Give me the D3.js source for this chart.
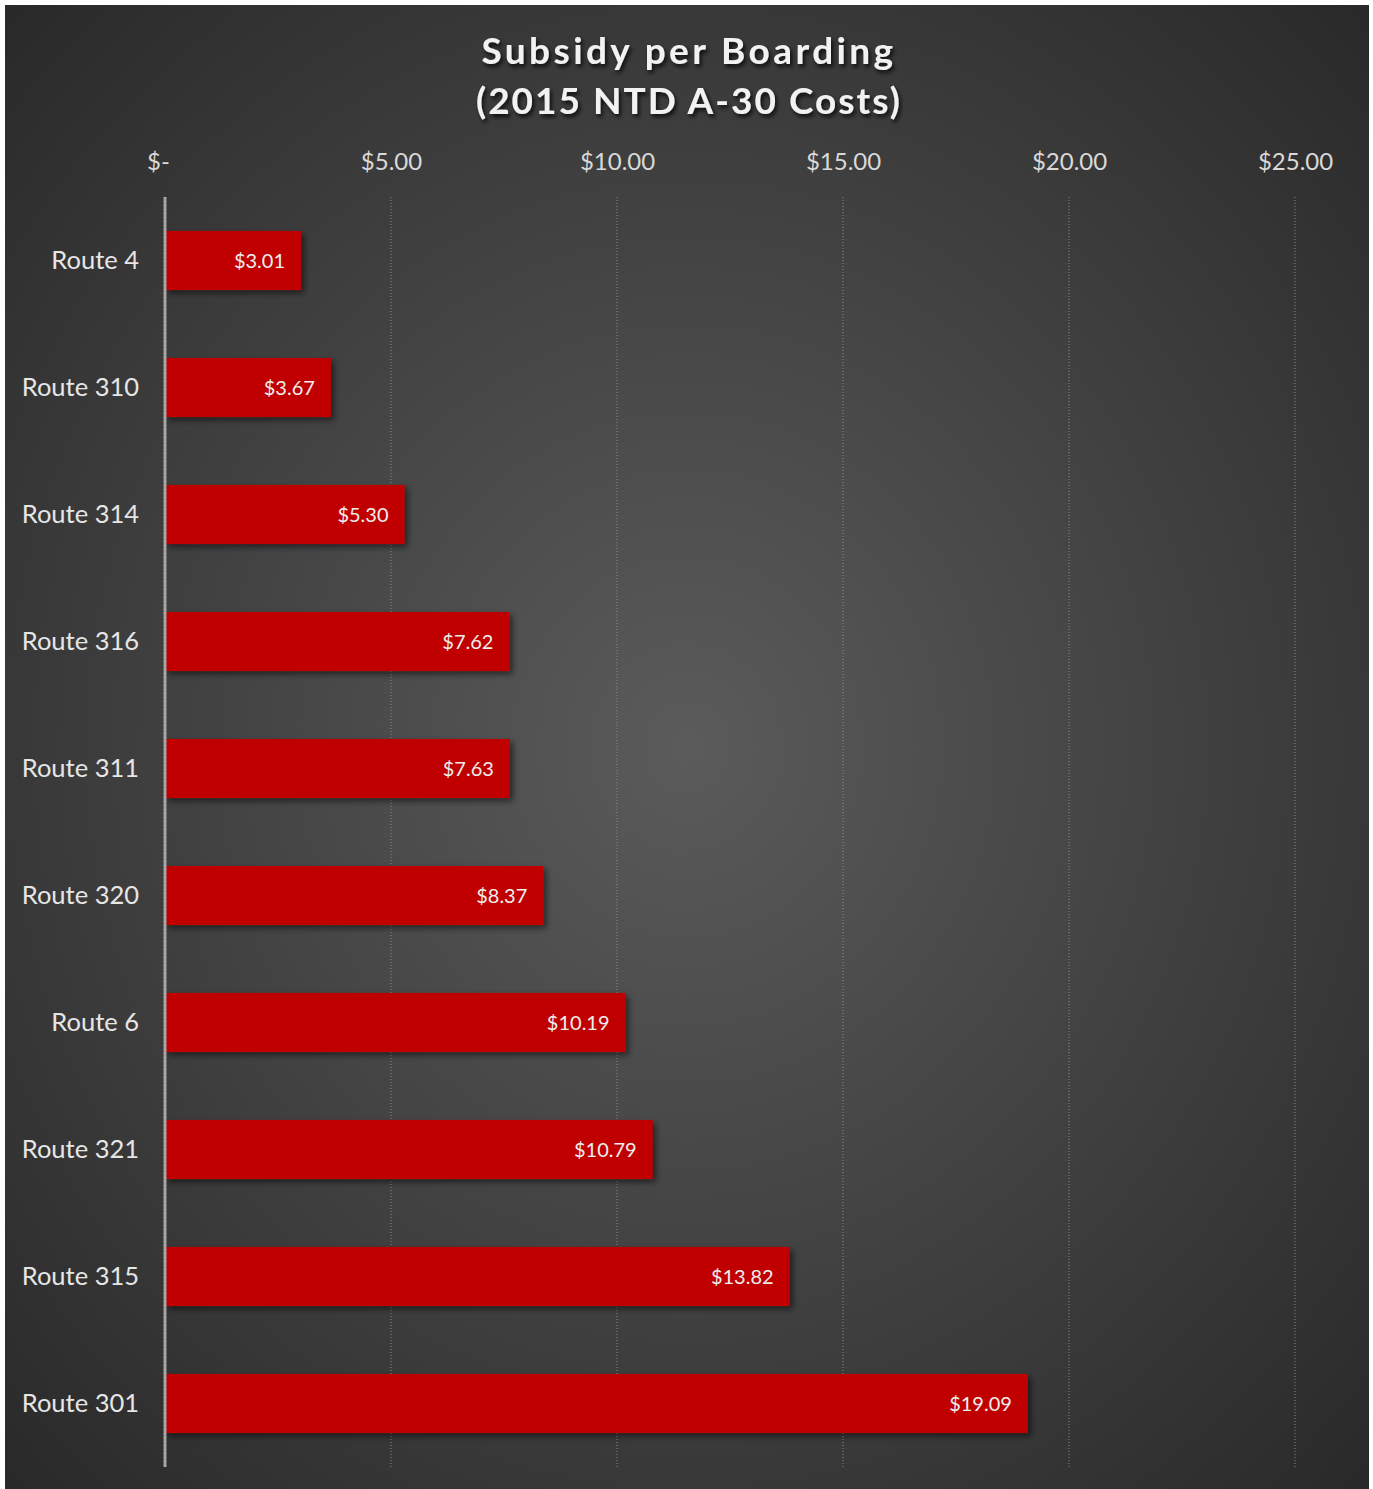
<!DOCTYPE html>
<html><head><meta charset="utf-8">
<script src="https://cdn.jsdelivr.net/npm/d3@7"></script>
<style>body{margin:0;background:#fff;}svg{display:block;}</style>
</head><body>
<script>
const categories = ["Route 4","Route 310","Route 314","Route 316","Route 311","Route 320","Route 6","Route 321","Route 315","Route 301"];
const values = [3.01,3.67,5.30,7.62,7.63,8.37,10.19,10.79,13.82,19.09];
const tickValues = [0,5,10,15,20,25];
const tickLabels = ["$-","$5.00","$10.00","$15.00","$20.00","$25.00"];
const titleLines = ["Subsidy per Boarding","(2015 NTD A-30 Costs)"];

const W=1373,H=1489;
const svg=d3.select("body").append("svg").attr("width",W).attr("height",H);
const defs=svg.append("defs");
const rg=defs.append("radialGradient").attr("id","bg").attr("cx","50%").attr("cy","50%").attr("r","75%");
rg.append("stop").attr("offset","0%").attr("stop-color","#5b5b5b");
rg.append("stop").attr("offset","100%").attr("stop-color","#262626");
const f=defs.append("filter").attr("id","sh").attr("x","-10%").attr("y","-20%").attr("width","130%").attr("height","160%");
f.append("feDropShadow").attr("dx",3).attr("dy",3).attr("stdDeviation",3).attr("flood-color","#000").attr("flood-opacity",0.55);
const ft=defs.append("filter").attr("id","tsh").attr("x","-10%").attr("y","-30%").attr("width","130%").attr("height","160%");
ft.append("feDropShadow").attr("dx",2).attr("dy",3).attr("stdDeviation",2).attr("flood-color","#000").attr("flood-opacity",0.8);

svg.append("rect").attr("x",5).attr("y",5).attr("width",1364).attr("height",1484).attr("fill","url(#bg)");

const font="Lato, 'Open Sans', sans-serif";
const x=d3.scaleLinear().domain([0,25]).range([165,1295]);
const y=d3.scaleBand().domain(categories).range([197,1467]).paddingInner(0.535).paddingOuter(0.2675);

// title
svg.append("text").attr("text-anchor","middle").attr("font-family",font)
 .attr("font-weight","bold").attr("font-size",37).attr("fill","#f2f2f2").attr("filter","url(#tsh)")
 .selectAll("tspan").data(titleLines).join("tspan").attr("x",689).attr("y",(d,i)=>i?114:64)
 .attr("letter-spacing",(d,i)=>i?2.0:3.4).text(d=>d);

// gridlines
svg.append("g").selectAll("line").data(tickValues.slice(1)).join("line")
 .attr("x1",d=>x(d)).attr("x2",d=>x(d)).attr("y1",197).attr("y2",1467)
 .attr("stroke","#8a8a8a").attr("stroke-width",1).attr("stroke-dasharray","1,2");

// top axis
const ax=d3.axisTop(x).tickValues(tickValues).tickFormat((d,i)=>tickLabels[i]).tickSize(0).tickPadding(0);
const axg=svg.append("g").attr("transform","translate(0,170)").call(ax);
axg.select(".domain").remove();
axg.selectAll("text").attr("font-family",font).attr("font-size",24).attr("fill","#d9d9d9")
 .attr("dx",(d)=>d===0?-7:0);

// bars
svg.append("g").selectAll("rect").data(values).join("rect")
 .attr("x",x(0)).attr("y",(d,i)=>y(categories[i])).attr("width",d=>x(d)-x(0)).attr("height",y.bandwidth())
 .attr("fill","#c00000").attr("filter","url(#sh)");

// zero axis line
svg.append("line").attr("x1",x(0)).attr("x2",x(0)).attr("y1",197).attr("y2",1467).attr("stroke","#a0a0a0").attr("stroke-width",3);
svg.append("line").attr("x1",x(0)).attr("x2",x(0)).attr("y1",197).attr("y2",1467).attr("stroke","#d0d0d0").attr("stroke-width",1).attr("stroke-dasharray","1,3");

// left axis
const ay=d3.axisLeft(y).tickSize(0).tickPadding(26);
const ayg=svg.append("g").attr("transform",`translate(${x(0)},0)`).call(ay);
ayg.select(".domain").remove();
ayg.selectAll("text").attr("font-family",font).attr("font-size",25.5).attr("fill","#e6e6e6");

// data labels
svg.append("g").selectAll("text").data(values).join("text")
 .attr("x",d=>x(d)-16).attr("y",(d,i)=>y(categories[i])+y.bandwidth()/2).attr("dy","0.35em")
 .attr("text-anchor","end").attr("font-family",font).attr("font-size",20).attr("fill","#eeeeee")
 .text(d=>"$"+d.toFixed(2));
</script>
</body></html>
